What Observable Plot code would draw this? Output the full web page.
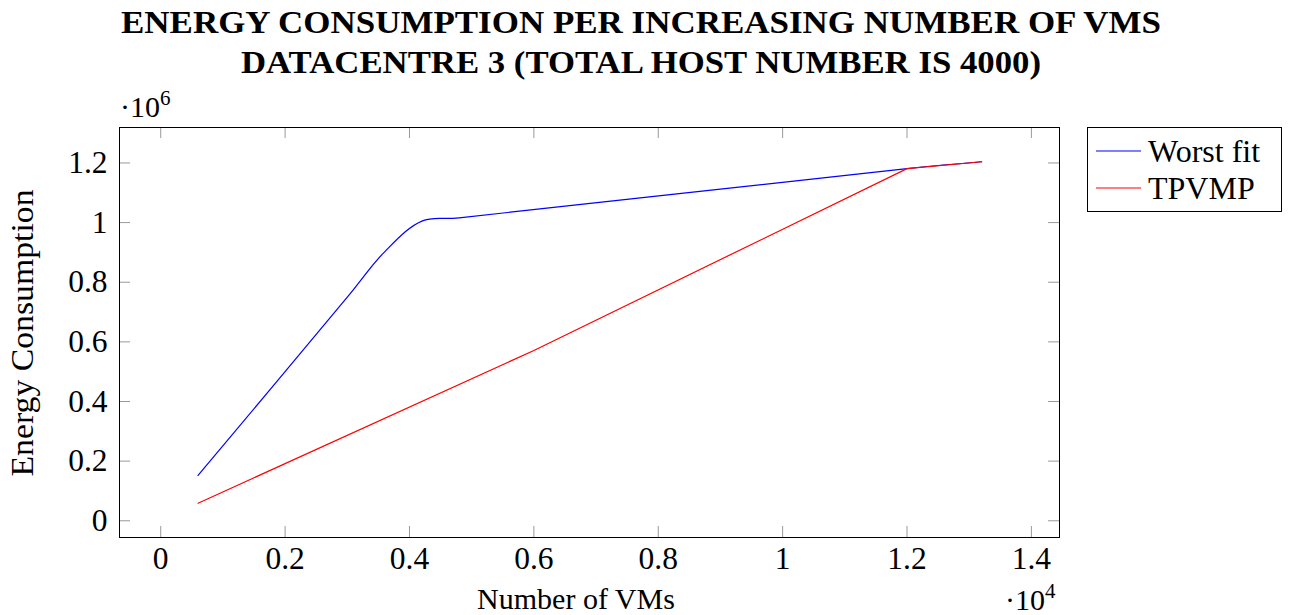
<!DOCTYPE html>
<html><head><meta charset="utf-8">
<script src="https://cdn.jsdelivr.net/npm/d3@7"></script>
<script src="https://cdn.jsdelivr.net/npm/@observablehq/plot@0.6"></script>
<style>body{margin:0;background:#fff} svg{display:block}</style>
</head><body><div id="chart"></div>
<script>
const titleLines = ["ENERGY CONSUMPTION PER INCREASING NUMBER OF VMS", "DATACENTRE 3 (TOTAL HOST NUMBER IS 4000)"];
const seriesNames = ["Worst fit", "TPVMP"];
const seriesColors = ["#0000ff", "#ff0000"];
const worstVMs = [600, 3000, 3600, 4200, 4800, 12000, 13200];
const worstEnergy = [152000, 750000, 902000, 1005000, 1016000, 1181000, 1204000];
const tpvmpVMs = [600, 6000, 12000, 13200];
const tpvmpEnergy = [59000, 571000, 1181000, 1204000];
const xTicks = [0, 2000, 4000, 6000, 8000, 10000, 12000, 14000];
const yTicks = [0, 200000, 400000, 600000, 800000, 1000000, 1200000];
const xLabel = "Number of VMs";
const yLabel = "Energy Consumption";
const xExp = "4", yExp = "6";

const W = 1295, H = 615, mL = 119, mR = 236, mT = 127, mB = 78;
const frameW = W - mL - mR, frameH = H - mT - mB;
const TICK = 11;
const FONT = "'Liberation Serif', 'DejaVu Serif', serif";
const fmt = v => String(Math.round(v * 10) / 10);

const worst = worstVMs.map((x, i) => ({x, y: worstEnergy[i], s: seriesNames[0]}));
const tpvmp = tpvmpVMs.map((x, i) => ({x, y: tpvmpEnergy[i], s: seriesNames[1]}));

const plot = Plot.plot({
  width: W, height: H,
  marginLeft: mL, marginRight: mR, marginTop: mT, marginBottom: mB,
  style: {fontFamily: FONT, fontSize: "31.5px", color: "#000", background: "#fff"},
  x: {domain: [-663, 14452]},
  y: {domain: [-56100, 1318900]},
  marks: [
    Plot.tickX(xTicks, {x: d => d, insetTop: frameH - TICK, stroke: "#999"}),
    Plot.tickX(xTicks, {x: d => d, insetBottom: frameH - TICK, stroke: "#999"}),
    Plot.tickY(yTicks, {y: d => d, insetRight: frameW - TICK, stroke: "#999"}),
    Plot.tickY(yTicks, {y: d => d, insetLeft: frameW - TICK, stroke: "#999"}),
    Plot.line(worst, {x: "x", y: "y", stroke: seriesColors[0], strokeWidth: 1.2, curve: "catmull-rom"}),
    Plot.line(tpvmp, {x: "x", y: "y", stroke: seriesColors[1], strokeWidth: 1.2}),
    Plot.frame({stroke: "#000"}),
    Plot.axisX({ticks: xTicks, tickSize: 0, tickPadding: 9, tickFormat: d => fmt(d / 1e4), label: null}),
    Plot.axisY({ticks: yTicks, tickSize: 0, tickPadding: 12, tickFormat: d => fmt(d / 1e6), label: null})
  ]
});

const svg = d3.select(plot);
const g = svg.append("g").attr("font-family", FONT).attr("fill", "#000").attr("text-anchor", "start");
const titleLens = [1040, 800];
titleLines.forEach((t, i) => {
  g.append("text").attr("x", 641).attr("y", 33 + i * 40).attr("text-anchor", "middle")
    .attr("font-weight", "bold").attr("font-size", 31)
    .attr("textLength", titleLens[i]).attr("lengthAdjust", "spacingAndGlyphs").text(t);
});
g.append("text").attr("transform", "translate(33,333) rotate(-90)").attr("text-anchor", "middle")
  .attr("font-size", 31).attr("textLength", 287).attr("lengthAdjust", "spacingAndGlyphs").text(yLabel);
g.append("text").attr("x", 576).attr("y", 609).attr("text-anchor", "middle")
  .attr("font-size", 30).text(xLabel);
function expLabel(x, y, e) {
  const t = g.append("text").attr("x", x).attr("y", y).attr("font-size", 30).attr("text-anchor", "start");
  t.append("tspan").text("·10");
  t.append("tspan").attr("font-size", 21).attr("dy", -12).text(e);
}
expLabel(120, 117, yExp);
expLabel(1005, 610, xExp);
// legend
const lg = svg.append("g").attr("font-family", FONT).attr("text-anchor", "start");
lg.append("rect").attr("x", 1087.5).attr("y", 127.5).attr("width", 194).attr("height", 84)
  .attr("fill", "#fff").attr("stroke", "#000");
seriesNames.forEach((n, i) => {
  const cy = 151 + i * 37;
  lg.append("line").attr("x1", 1096).attr("x2", 1141).attr("y1", cy).attr("y2", cy)
    .attr("stroke", seriesColors[i]).attr("stroke-width", 1.2);
  lg.append("text").attr("x", 1148).attr("y", cy + 11).attr("font-size", 32).attr("fill", "#000")
    .attr("text-anchor", "start").text(n);
});
document.getElementById("chart").appendChild(plot);
</script></body></html>
